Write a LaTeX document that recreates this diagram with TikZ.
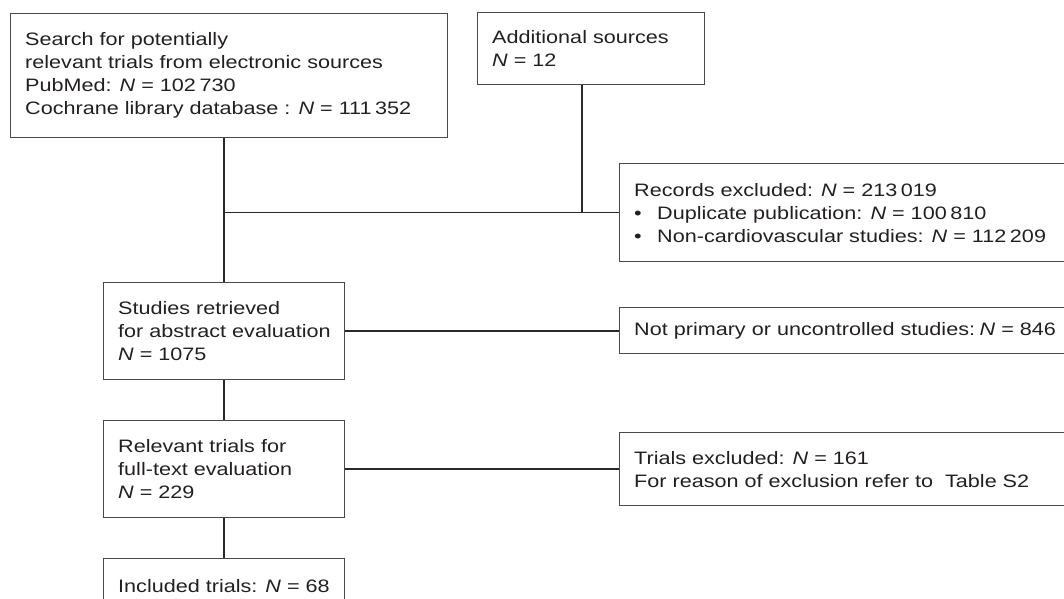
\documentclass[tikz,border=0pt]{standalone}
\usepackage{fontspec}
\setmainfont[FakeStretch=1.2]{Liberation Sans}
\definecolor{boxc}{HTML}{4A4A4A}
\definecolor{linec}{HTML}{2A2A2A}
\definecolor{txtc}{HTML}{231F20}
\newcommand{\Nv}{\textit{N}}
\newcommand{\ts}{\hspace{0.2em}}
\newcommand{\bul}{\makebox[23pt][l]{\textbullet}}
\begin{document}
\begin{tikzpicture}[x=1pt,y=-1pt,
  fbox/.style={draw=boxc, line width=1.2pt, inner sep=0pt, anchor=north west},
  ftxt/.style={anchor=west, align=left, inner sep=0pt, text=txtc, xshift=15pt,
    font=\fontsize{18}{23}\selectfont},
  conn/.style={draw=linec, line width=1.5pt}]
\useasboundingbox (0,0) rectangle (1064,598);
\clip (0,0) rectangle (1064,598);
% boxes
\node[fbox, minimum width=437pt, minimum height=124pt] (src) at (10,13) {};
\node[fbox, minimum width=227pt, minimum height=72pt] (add) at (477,12) {};
\node[fbox, minimum width=461pt, minimum height=98pt] (rec) at (619,163) {};
\node[fbox, minimum width=241pt, minimum height=97pt] (st) at (103,282) {};
\node[fbox, minimum width=461pt, minimum height=46pt] (np) at (619,307) {};
\node[fbox, minimum width=241pt, minimum height=97pt] (rel) at (103,420) {};
\node[fbox, minimum width=461pt, minimum height=73pt] (tr) at (619,432) {};
\node[fbox, minimum width=241pt, minimum height=54pt] (inc) at (103,558) {};
% texts
\node[ftxt] (srct) at (src.west)
  {Search for potentially\\relevant trials from electronic sources\\PubMed: \Nv{} = 102\ts730\\Cochrane library database : \Nv{} = 111\ts352};
\node[ftxt] (addt) at (add.west) {Additional sources\\\Nv{} = 12};
\node[ftxt] (rect) at (rec.west)
  {Records excluded: \Nv{} = 213\ts019\\\bul Duplicate publication: \Nv{} = 100\ts810\\\bul Non-cardiovascular studies: \Nv{} = 112\ts209};
\node[ftxt] (stt) at (st.west) {Studies retrieved\\for abstract evaluation\\\Nv{} = 1075};
\node[ftxt] (npt) at (np.west) {Not primary or uncontrolled studies:\hspace{0.25em}\Nv{} = 846};
\node[ftxt] (relt) at (rel.west) {Relevant trials for\\full-text evaluation\\\Nv{} = 229};
\node[ftxt] (trt) at (tr.west) {Trials excluded: \Nv{} = 161\\For reason of exclusion refer to\ \ Table S2};
\node[ftxt] (inct) at (inc.west) {Included trials: \Nv{} = 68};
% connectors
\coordinate (j1) at (st.north |- rec.west);
\coordinate (a2) at ([xshift=-9pt]add.south);
\draw[conn] (src.south -| st.north) -- (st.north);
\draw[conn] (j1) -- (rec.west);
\draw[conn] (a2) -- (a2 |- rec.west);
\draw[conn] (st.east) -- (st.east -| np.west);
\draw[conn] (st.south) -- (rel.north);
\draw[conn] (rel.east) -- (rel.east -| tr.west);
\draw[conn] (rel.south) -- (inc.north);
\end{tikzpicture}
\end{document}
